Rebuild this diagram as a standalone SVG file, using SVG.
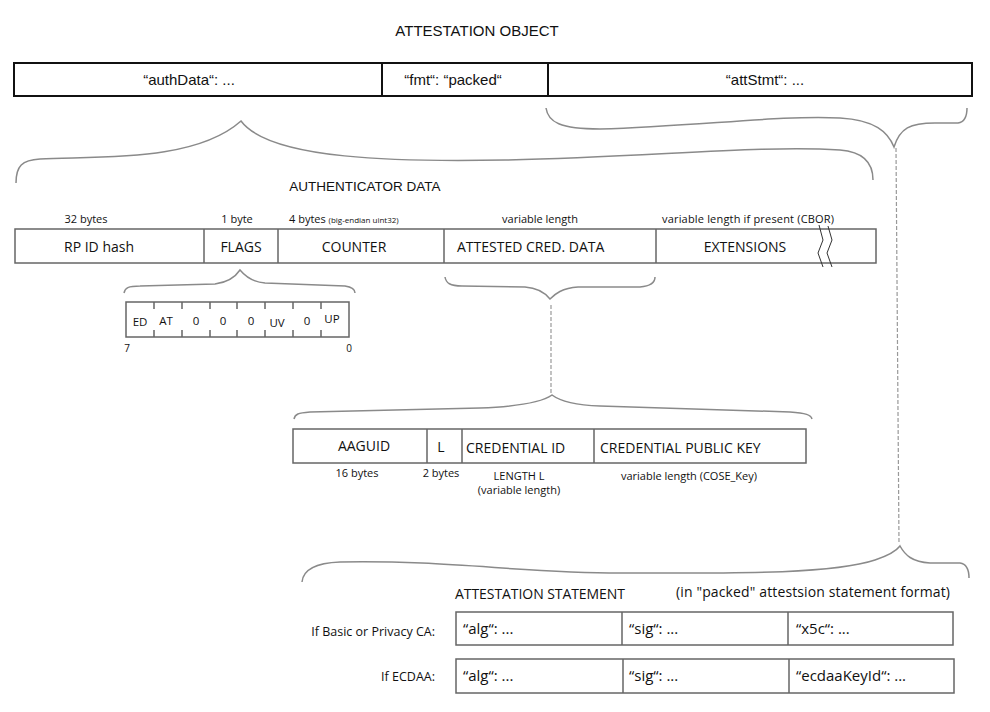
<svg xmlns="http://www.w3.org/2000/svg" width="990" height="712" viewBox="0 0 990 712">
<style>
text{font-family:"Open Sans","Liberation Sans",sans-serif;fill:#111;}
.t{font-family:"Liberation Sans",Arial,sans-serif;font-size:15px;}
.h{font-family:"Liberation Sans",Arial,sans-serif;font-size:13.5px;}
.b{font-size:14px;}
.r{font-size:15px;}
.s{font-size:11px;}
.f{font-size:11.5px;}
.xs{font-size:8px;}
.n{font-size:10px;}
.box{fill:#fff;stroke:#666;stroke-width:1.5;}
.top{fill:#fff;stroke:#111;stroke-width:2;}
.div{stroke:#666;stroke-width:1.5;fill:none;}
.zz{stroke:#333;stroke-width:1;fill:none;}
.brace{fill:none;stroke:#8a8a8a;stroke-width:1.5;}
.dash{fill:none;stroke:#999;stroke-width:1.2;stroke-dasharray:4 2;}
.m{text-anchor:middle;}
.e{text-anchor:end;}
</style>
<rect width="990" height="712" fill="#fff"/>
<text class="t m" x="477" y="36">ATTESTATION OBJECT</text>

<g id="attestation-object">
<rect class="top" x="14" y="63" width="958" height="33"/>
<line x1="382" y1="63" x2="382" y2="96" stroke="#111" stroke-width="2"/>
<line x1="548" y1="63" x2="548" y2="96" stroke="#111" stroke-width="2"/>
<text class="t m" x="189" y="85">“authData“: ...</text>
<text class="t m" x="453" y="85">“fmt“: “packed“</text>
<text class="t m" x="765" y="85">“attStmt“: ...</text>
</g>

<g id="connectors">
<path class="brace" d="M16,183 C16,166 22,160 40,159 C100,156 195,162 241,121 C270,160 400,162 505,160 C650,157 760,145 840,150 C866,152 873,165 873,180"/>
<path class="brace" d="M546,108 C548,122 560,129 600,129 C700,126 780,115 840,118 C875,120 888,132 894,147 C900,128 910,123 935,123 L958,123 C965,122 967,115 967,108"/>
<path class="dash" d="M896,148 L899,544"/>
<path class="brace" d="M302,582 C303,570 315,563 340,562 C450,560 520,573 620,573 C720,573 830,575 875,560 C890,555 897,550 900,546 C905,555 912,562 930,563 L960,563 C967,564 969,570 969,578"/>
<path class="brace" d="M124,293 C125,288 128,286 140,286 L215,284 C230,282 236,276 240,270 C245,276 252,282 265,283 L345,286 C352,287 355,290 355,293"/>
<path class="brace" d="M445,277 C446,283 450,286 462,286 L525,287 C540,288 546,294 550,299 C555,294 562,288 578,287 L640,287 C652,286 655,282 655,277"/>
<path class="dash" d="M551,305 L551,393"/>
<path class="brace" d="M294,419 C295,414 298,413 310,412 L480,408 C530,406 545,400 552,395 C560,401 575,405 600,406 L790,412 C806,413 811,415 812,419"/>
</g>

<text class="h m" x="365" y="191">AUTHENTICATOR DATA</text>

<g id="authenticator-data">
<rect class="box" x="15" y="229" width="861" height="34"/>
<line class="div" x1="204" y1="229" x2="204" y2="263"/>
<line class="div" x1="278" y1="229" x2="278" y2="263"/>
<line class="div" x1="444" y1="229" x2="444" y2="263"/>
<line class="div" x1="656" y1="229" x2="656" y2="263"/>
<polyline class="zz" points="819,225 823,240 818,253 823,267"/>
<polyline class="zz" points="828,226 832,240 827,253 832,267"/>
<text class="b m" x="99" y="252">RP ID hash</text>
<text class="b m" x="241" y="252">FLAGS</text>
<text class="b m" x="354" y="252">COUNTER</text>
<text class="b" x="457" y="252">ATTESTED CRED. DATA</text>
<text class="b m" x="745" y="252">EXTENSIONS</text>
<text class="s m" x="86" y="223">32 bytes</text>
<text class="s m" x="237" y="223">1 byte</text>
<text class="s" x="289" y="223">4 bytes <tspan class="xs">(big-endian uint32)</tspan></text>
<text class="s m" x="540" y="223">variable length</text>
<text class="s" x="662" y="223" textLength="172">variable length if present (CBOR)</text>
</g>

<g id="flags">
<rect class="box" x="126" y="302" width="223" height="35"/>
<path class="div" d="M154,302v7M182,302v7M210,302v7M237,302v7M265,302v7M293,302v7M321,302v7M154,337v-7M182,337v-7M210,337v-7M237,337v-7M265,337v-7M293,337v-7M321,337v-7"/>
<text class="f m" x="140" y="326">ED</text>
<text class="f m" x="166" y="325">AT</text>
<text class="f m" x="196" y="325">0</text>
<text class="f m" x="223" y="325">0</text>
<text class="f m" x="251" y="325">0</text>
<text class="f m" x="277" y="327">UV</text>
<text class="f m" x="307" y="325">0</text>
<text class="f m" x="332" y="323">UP</text>
<text class="n m" x="127" y="352">7</text>
<text class="n m" x="349" y="352">0</text>
</g>

<g id="attested-credential-data">
<rect class="box" x="293" y="429" width="513" height="34"/>
<line class="div" x1="427" y1="429" x2="427" y2="463"/>
<line class="div" x1="462" y1="429" x2="462" y2="463"/>
<line class="div" x1="594" y1="429" x2="594" y2="463"/>
<text class="b m" x="364" y="451">AAGUID</text>
<text class="b m" x="441" y="452">L</text>
<text class="b" x="466" y="453">CREDENTIAL ID</text>
<text class="b" x="600" y="453">CREDENTIAL PUBLIC KEY</text>
<text class="s m" x="357" y="477">16 bytes</text>
<text class="s m" x="441" y="477">2 bytes</text>
<text class="s m" x="519" y="480">LENGTH L</text>
<text class="s m" x="519" y="494">(variable length)</text>
<text class="s m" x="689" y="480">variable length (COSE_Key)</text>
</g>

<g id="attestation-statement">
<text class="b" x="455" y="599" textLength="170">ATTESTATION STATEMENT</text>
<text class="b" x="676" y="597" textLength="274">(in "packed" attestsion statement format)</text>
<text class="e" style="font-size:12.5px" x="435" y="636">If Basic or Privacy CA:</text>
<text class="e" style="font-size:12.5px" x="435" y="681">If ECDAA:</text>
<rect class="box" x="456" y="612" width="497" height="33"/>
<line class="div" x1="622" y1="612" x2="622" y2="645"/>
<line class="div" x1="788" y1="612" x2="788" y2="645"/>
<text class="r" x="463" y="634">“alg“: ...</text>
<text class="r" x="629" y="634">“sig“: ...</text>
<text class="r" x="796" y="634">“x5c“: ...</text>
<rect class="box" x="456" y="659" width="498" height="34"/>
<line class="div" x1="623" y1="659" x2="623" y2="693"/>
<line class="div" x1="789" y1="659" x2="789" y2="693"/>
<text class="r" x="463" y="681">“alg“: ...</text>
<text class="r" x="629" y="681">“sig“: ...</text>
<text class="r" x="796" y="681">“ecdaaKeyId“: ...</text>
</g>
</svg>
